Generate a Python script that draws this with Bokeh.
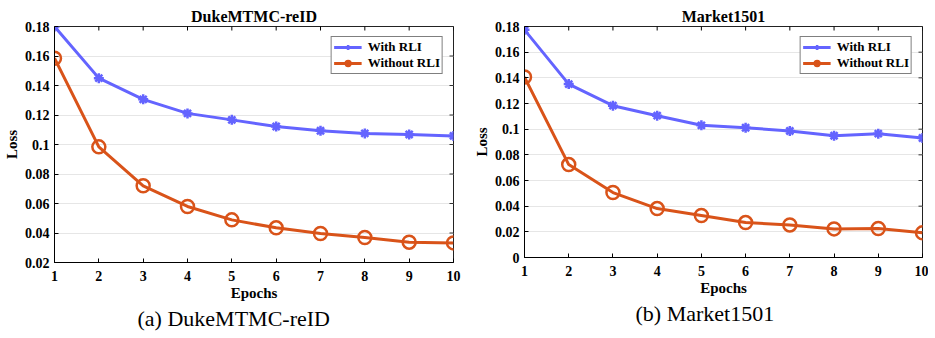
import math
from bokeh.plotting import figure
from bokeh.layouts import row
from bokeh.models import (FixedTicker, Range1d, Title, Legend, LegendItem, LinearAxis)
from bokeh.embed import file_html
from bokeh.resources import INLINE

epochs = [1, 2, 3, 4, 5, 6, 7, 8, 9, 10]

duke_with = [0.180, 0.145, 0.1306, 0.1211, 0.1167, 0.1122, 0.1093, 0.1075, 0.1068, 0.1058]
duke_without = [0.1585, 0.0984, 0.0720, 0.0580, 0.0489, 0.0435, 0.0397, 0.0370, 0.0338, 0.0333]

market_with = [0.1774, 0.1351, 0.1183, 0.1105, 0.1030, 0.1011, 0.0986, 0.0949, 0.0965, 0.0931]
market_without = [0.1406, 0.0724, 0.0506, 0.0381, 0.0327, 0.0272, 0.0254, 0.0223, 0.0226, 0.0192]

duke_yticks = [0.02, 0.04, 0.06, 0.08, 0.1, 0.12, 0.14, 0.16, 0.18]
duke_ylabels = ["0.02", "0.04", "0.06", "0.08", "0.1", "0.12", "0.14", "0.16", "0.18"]
market_yticks = [0, 0.02, 0.04, 0.06, 0.08, 0.1, 0.12, 0.14, 0.16, 0.18]
market_ylabels = ["0", "0.02", "0.04", "0.06", "0.08", "0.1", "0.12", "0.14", "0.16", "0.18"]

series_names = ["With RLI", "Without RLI"]
titles = ["DukeMTMC-reID", "Market1501"]
captions = ["(a) DukeMTMC-reID", "(b) Market1501"]

BLUE = "#6464FF"
ORANGE = "#D95319"
FONT = "Liberation Serif"


def make(title, caption, ywith, ywithout, yticks, ylabels, ymin, ymax,
         bl, fw, br, bt, fh, bb, cap_offset, cap_gap):
    p = figure(frame_width=fw, frame_height=fh,
               min_border_left=bl, min_border_right=br, min_border_top=bt, min_border_bottom=bb,
               output_backend="svg", toolbar_location=None, title=None,
               x_range=Range1d(1, 10), y_range=Range1d(ymin, ymax))
    xax = p.below[0]
    yax = p.left[0]

    p.background_fill_color = "white"
    p.border_fill_color = "white"
    p.outline_line_color = "#222222"
    p.outline_line_width = 1

    p.xgrid.visible = False
    p.ygrid.ticker = FixedTicker(ticks=yticks)
    p.ygrid.grid_line_color = "#e6e6e6"
    p.ygrid.grid_line_width = 1.2

    for ax in (xax, yax):
        ax.major_label_text_font = FONT
        ax.major_label_text_font_style = "bold"
        ax.major_label_text_font_size = "14px"
        ax.major_label_text_color = "black"
        ax.axis_label_text_font = FONT
        ax.axis_label_text_font_style = "bold"
        ax.axis_label_text_font_size = "15px"
        ax.axis_label_text_color = "black"
        ax.major_tick_in = 4
        ax.major_tick_out = 0
        ax.minor_tick_line_color = None
        ax.axis_line_color = "black"
        ax.major_tick_line_color = "black"

    xax.ticker = FixedTicker(ticks=epochs)
    xax.axis_label = "Epochs"
    xax.major_label_standoff = 8
    xax.axis_label_standoff = 1
    yax.ticker = FixedTicker(ticks=yticks)
    yax.axis_label = "Loss"
    yax.major_label_standoff = 5
    yax.axis_label_standoff = 2
    yax.major_label_overrides = {t: l for t, l in zip(yticks, ylabels)}

    # chart title, drawn as the label of an empty top axis so it is centred on the box
    top = LinearAxis(ticker=FixedTicker(ticks=[]), axis_label=title,
                     axis_label_text_font=FONT, axis_label_text_font_style="bold",
                     axis_label_text_font_size="16px", axis_label_text_color="black",
                     axis_label_standoff=2, major_label_standoff=0,
                     major_tick_out=0, major_tick_in=0, minor_tick_out=0, minor_tick_in=0,
                     axis_line_color=None, major_tick_line_color=None,
                     minor_tick_line_color=None)
    p.add_layout(top, "above")

    # empty spacer between the x axis and the caption
    spacer = LinearAxis(ticker=FixedTicker(ticks=[]), major_tick_out=cap_gap, major_tick_in=0,
                        minor_tick_out=0, minor_tick_in=0, axis_line_color=None,
                        major_tick_line_color=None, minor_tick_line_color=None,
                        major_label_standoff=0, axis_label_standoff=0)
    p.add_layout(spacer, "below")

    # inward tick marks on the top and right edges of the box (half clipped by the frame)
    p.scatter(epochs, [ymax] * len(epochs), marker="dash", angle=math.pi / 2, size=8,
              line_color="black", line_width=1)
    p.scatter([10] * len(yticks), yticks, marker="dash", size=8,
              line_color="#333333", line_width=1)

    l1 = p.line(epochs, ywith, line_color=BLUE, line_width=3)
    m1 = p.scatter(epochs, ywith, marker="asterisk", size=10, line_color=BLUE, line_width=2.5)
    l2 = p.line(epochs, ywithout, line_color=ORANGE, line_width=3)
    m2 = p.scatter(epochs, ywithout, marker="circle", size=13, line_color=ORANGE,
                   line_width=2.5, fill_color=None)

    legend = Legend(items=[LegendItem(label=series_names[0], renderers=[l1, m1]),
                           LegendItem(label=series_names[1], renderers=[l2, m2])],
                    location="top_right")
    legend.label_text_font = FONT
    legend.label_text_font_style = "bold"
    legend.label_text_font_size = "13px"
    legend.label_text_color = "black"
    legend.border_line_color = "black"
    legend.border_line_width = 1.2
    legend.background_fill_alpha = 1
    legend.padding = 2
    legend.spacing = 0
    legend.margin = 10
    legend.label_height = 12
    legend.glyph_height = 12
    legend.glyph_width = 28
    legend.label_standoff = 6
    p.add_layout(legend, "center")

    cap = Title(text=caption, align="left", offset=cap_offset, standoff=0,
                text_font=FONT, text_font_style="normal", text_font_size="22px",
                text_color="black")
    p.add_layout(cap, "below")
    return p


p1 = make(titles[0], captions[0], duke_with, duke_without, duke_yticks, duke_ylabels,
          0.02, 0.18, 45, 399, 14, 26, 236, 74, 83, 13)
p2 = make(titles[1], captions[1], market_with, market_without, market_yticks, market_ylabels,
          0, 0.18, 57, 398, 6, 26, 231, 79, 111, 18)

layout = row(p1, p2, spacing=0)
open("out.html", "w").write(file_html(layout, INLINE))
